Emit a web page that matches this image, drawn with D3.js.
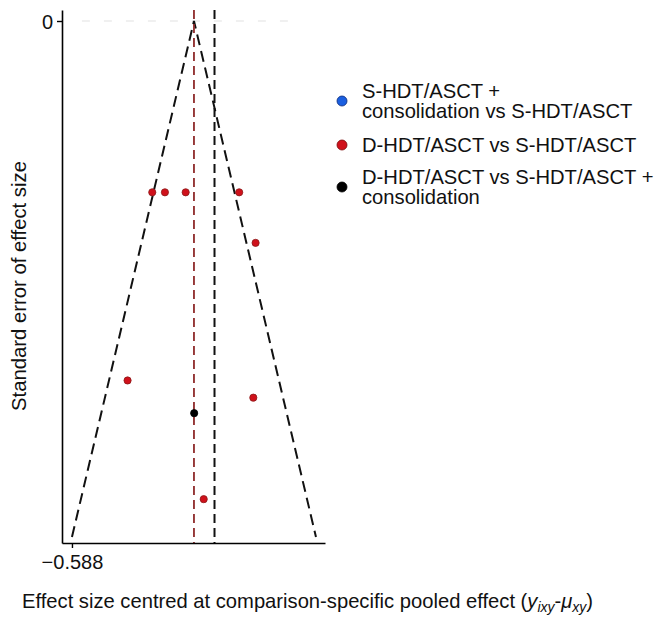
<!DOCTYPE html>
<html>
<head>
<meta charset="utf-8">
<script src="https://cdn.jsdelivr.net/npm/d3@7"></script>
<style>
  body { margin: 0; background: #fff; }
  svg { font-family: "Liberation Sans", Arial, sans-serif; }
</style>
</head>
<body>
<div id="chart"></div>
<script>
// funnel plot data
var groups = ["S-HDT/ASCT + consolidation vs S-HDT/ASCT",
              "D-HDT/ASCT vs S-HDT/ASCT",
              "D-HDT/ASCT vs S-HDT/ASCT + consolidation"];
var legendLines = [["S-HDT/ASCT +", "consolidation vs S-HDT/ASCT"],
                   ["D-HDT/ASCT vs S-HDT/ASCT"],
                   ["D-HDT/ASCT vs S-HDT/ASCT +", "consolidation"]];
var groupColors = ["#1a5fe0", "#d0111b", "#000000"];

var effect = [-0.201, -0.140, -0.040, 0.218, 0.297, -0.320, 0.286, 0.001, 0.047];
var stderr = [0.0996, 0.0996, 0.0996, 0.0996, 0.129, 0.209, 0.219, 0.228, 0.278];
var group  = [1, 1, 1, 1, 1, 1, 1, 2, 1];

var seMax = 0.3;          // bottom of funnel
var meanLine = 0.099;     // black dashed reference line
var xTicks = [-0.588];
var yTicks = [0];

var width = 657, height = 618;

var svg = d3.select("#chart").append("svg")
  .attr("width", width)
  .attr("height", height);

var x = d3.scaleLinear().domain([-0.636, 0.6315]).range([62, 325]);
var y = d3.scaleLinear().domain([-0.0064, 0.3035]).range([10, 543]);

// faint horizontal line at se = 0
svg.append("line")
  .attr("x1", x(-0.54)).attr("x2", x(0.46))
  .attr("y1", y(0)).attr("y2", y(0))
  .attr("stroke", "#ececec")
  .attr("stroke-width", 1.5)
  .attr("stroke-dasharray", "8,14");

// funnel
var funnel = [[-1.96 * seMax, seMax], [0, 0], [1.96 * seMax, seMax]];
svg.append("path")
  .datum(funnel)
  .attr("fill", "none")
  .attr("stroke", "#111")
  .attr("stroke-width", 2)
  .attr("stroke-dasharray", "11,6")
  .attr("d", d3.line().x(function (d) { return x(d[0]); }).y(function (d) { return y(d[1]); }));

// vertical reference lines
svg.append("line")
  .attr("x1", x(0)).attr("x2", x(0))
  .attr("y1", y.range()[0]).attr("y2", y.range()[1])
  .attr("stroke", "#8e2a2a")
  .attr("stroke-width", 1.8)
  .attr("stroke-dasharray", "9,5");
svg.append("line")
  .attr("x1", x(meanLine)).attr("x2", x(meanLine))
  .attr("y1", y.range()[0]).attr("y2", y.range()[1])
  .attr("stroke", "#111")
  .attr("stroke-width", 2)
  .attr("stroke-dasharray", "9,5");

// axes
var yAxis = svg.append("g")
  .attr("transform", "translate(62,0)")
  .call(d3.axisLeft(y).tickValues(yTicks).tickSize(5).tickSizeOuter(0).tickFormat(d3.format("d")));
var xAxis = svg.append("g")
  .attr("transform", "translate(0,543)")
  .call(d3.axisBottom(x).tickValues(xTicks).tickSize(5).tickSizeOuter(0)
    .tickFormat(function (d) { return "\u2212" + Math.abs(d).toFixed(3); }));

[yAxis, xAxis].forEach(function (a) {
  a.select(".domain").attr("stroke", "#000").attr("stroke-width", 1.6);
  a.selectAll(".tick line").attr("stroke", "#000").attr("stroke-width", 1.4);
  a.selectAll("text").attr("fill", "#111").style("font-size", "20px")
    .style("font-family", "'Liberation Sans', Arial, sans-serif");
});
yAxis.selectAll("text").attr("x", -9).attr("dy", "0.35em");
xAxis.selectAll("text").attr("y", 12);

// points
var pts = effect.map(function (e, i) { return { e: e, se: stderr[i], g: group[i] }; });
svg.append("g")
  .selectAll("circle")
  .data(pts)
  .enter()
  .append("circle")
  .attr("cx", function (d) { return x(d.e); })
  .attr("cy", function (d) { return y(d.se); })
  .attr("r", 3.6)
  .attr("fill", function (d) { return groupColors[d.g]; })
  .attr("stroke", function (d) { return d.g == 2 ? "#000" : "#8a1a1a"; })
  .attr("stroke-width", 0.8);

// axis titles
svg.append("text")
  .attr("transform", "translate(26,286) rotate(-90)")
  .attr("text-anchor", "middle")
  .style("font-size", "20.3px")
  .attr("fill", "#111")
  .text("Standard error of effect size");

var xt = svg.append("text")
  .attr("x", 22).attr("y", 608)
  .style("font-size", "20.2px")
  .attr("fill", "#111");
xt.append("tspan").text("Effect size centred at comparison-specific pooled effect (");
xt.append("tspan").style("font-style", "italic").text("y");
xt.append("tspan").style("font-style", "italic").style("font-size", "14px").attr("dy", 4).text("ixy");
xt.append("tspan").attr("dy", -4).text("-");
xt.append("tspan").style("font-style", "italic").text("\u03bc");
xt.append("tspan").style("font-style", "italic").style("font-size", "14px").attr("dy", 4).text("xy");
xt.append("tspan").attr("dy", -4).text(")");

// legend
var legendY = [101, 145, 187];
var leg = svg.append("g");
groups.forEach(function (g, i) {
  leg.append("circle")
    .attr("cx", 342).attr("cy", legendY[i])
    .attr("r", 5)
    .attr("fill", groupColors[i])
    .attr("stroke", i == 0 ? "#0a2a7a" : (i == 1 ? "#7a0a0a" : "#000"))
    .attr("stroke-width", 0.8);
  var lines = legendLines[i];
  var t = leg.append("text")
    .attr("x", 362)
    .attr("y", legendY[i] - (lines.length - 1) * 10 + 7)
    .style("font-size", "20.2px")
    .attr("fill", "#111");
  lines.forEach(function (l, j) {
    t.append("tspan").attr("x", 362).attr("dy", j == 0 ? 0 : 20).text(l);
  });
});
</script>
</body>
</html>
